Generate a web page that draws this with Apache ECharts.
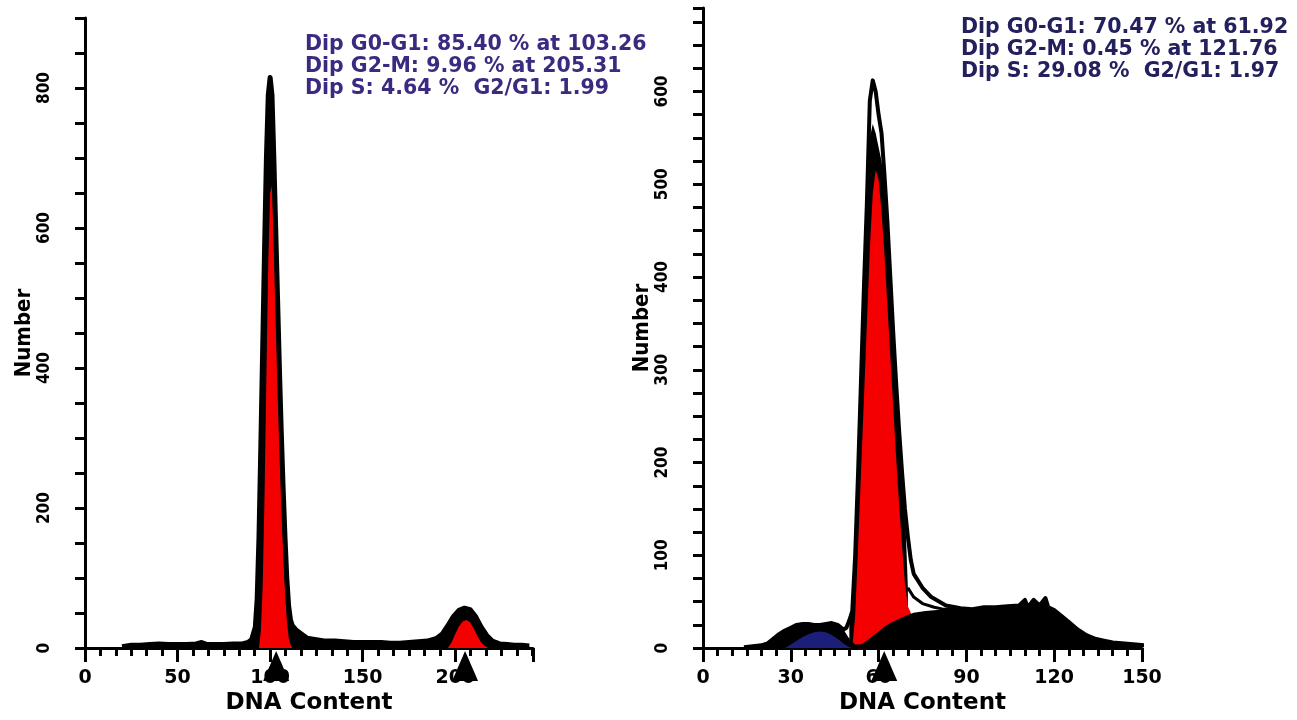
<!DOCTYPE html>
<html>
<head>
<meta charset="utf-8">
<title>DNA Content</title>
<script src="https://cdn.jsdelivr.net/npm/echarts@6/dist/echarts.min.js"></script>
<style>
    html, body { margin: 0; padding: 0; background: #fff; }
    #main { width: 1297px; height: 720px; }
</style>
</head>
<body>
<div id="main"></div>
<script>
// ---------- 左图数据 ----------
const leftHistX = [20, 25, 30, 35, 40, 45, 50, 55, 60, 63, 66, 70, 75, 80, 85, 88, 90, 92, 93, 94, 95, 96, 97, 98, 99, 100,
    101, 102, 103, 104, 105, 106, 107, 108, 109, 110, 111, 112, 114, 116, 118, 120, 125, 130, 135, 140, 145, 150, 155, 160,
    165, 170, 175, 180, 185, 190, 193, 196, 199, 202, 205, 208, 211, 214, 217, 220, 224, 228, 232, 236, 240];
const leftHistY = [2, 4, 4, 5, 6, 5, 5, 5, 6, 8, 5, 5, 5, 6, 6, 8, 12, 30, 70, 160, 290, 430, 570, 700, 790, 815,
    790, 700, 600, 500, 400, 310, 230, 160, 100, 60, 40, 32, 26, 22, 18, 14, 12, 10, 10, 9, 8, 8, 8, 8,
    7, 7, 8, 9, 10, 14, 20, 32, 45, 54, 57, 55, 45, 30, 18, 10, 6, 5, 4, 4, 3];
const leftG1X = [94, 95, 96, 97, 98, 99, 100, 101, 102, 103, 104, 105, 106, 107, 108, 109, 110, 111, 112];
const leftG1Y = [0, 25, 90, 220, 390, 550, 650, 660, 590, 490, 395, 305, 220, 145, 85, 40, 15, 5, 0];
const leftG2X = [196, 198, 200, 202, 204, 206, 208, 210, 212, 214, 216, 218];
const leftG2Y = [0, 8, 20, 31, 38, 40, 37, 28, 17, 8, 3, 0];
const leftPeaks = [103.26, 205.31];
const leftXLabels = [0, 50, 100, 150, 200];
const leftYLabels = [0, 200, 400, 600, 800];
const leftNotes = ["Dip G0-G1: 85.40 % at 103.26", "Dip G2-M: 9.96 % at 205.31", "Dip S: 4.64 %  G2/G1: 1.99"];

// ---------- 右图数据 ----------
const rightHistX = [14, 17, 20, 22, 24, 26, 28, 30, 32, 34, 36, 38, 40, 42, 44, 46, 48, 49, 50, 51, 52, 53, 54, 55, 56,
    57, 58, 59, 60, 61, 62, 63, 64, 65, 66, 67, 68, 69, 70, 71, 72, 75, 78, 83, 88, 92, 96, 100, 104, 108, 110,
    111, 113, 115, 117, 118, 120, 122, 125, 128, 131, 134, 137, 140, 144, 148, 151];
const rightHistY = [1, 2, 3, 5, 10, 15, 19, 22, 25, 26, 26, 25, 25, 26, 27, 25, 20, 22, 30, 40, 100, 190, 290, 390, 480,
    590, 612, 600, 575, 555, 510, 460, 400, 340, 285, 235, 190, 150, 120, 95, 80, 65, 55, 46, 43, 42, 44, 44, 45, 46, 52,
    44, 52, 46, 54, 44, 41, 36, 28, 20, 14, 10, 8, 6, 5, 4, 3];
// 峰内实心黑区（顶部留空）
const rightPeakX = [50, 51, 52, 53, 54, 55, 56, 57, 58, 59, 60, 61, 62, 63, 64, 65, 66, 67, 68, 69, 70];
const rightPeakY = [30, 40, 100, 190, 290, 390, 470, 550, 565, 555, 540, 525, 500, 455, 400, 340, 285, 235, 190, 150, 65];
const rightFitX = [70, 72, 75, 79, 82, 86];
const rightFitY = [65, 55, 48, 44, 42, 42];
const rightG1X = [51, 52, 53, 54, 55, 56, 57, 58, 59, 60, 61, 62, 63, 64, 65, 66, 67, 68, 69, 70, 71];
const rightG1Y = [0, 35, 110, 190, 270, 350, 430, 490, 515, 505, 470, 425, 370, 315, 260, 205, 155, 110, 70, 45, 38];
const rightSX = [14, 17, 20, 22, 24, 26, 28, 30, 32, 34, 36, 38, 40, 42, 44, 46, 48, 50, 52, 54, 56, 58, 60, 62, 64, 66,
    68, 70, 72, 76, 80, 84, 88, 92, 96, 100, 104, 108, 110, 111, 113, 115, 117, 118, 120, 122, 125, 128, 131, 134, 137,
    140, 144, 148, 151];
const rightSY = [1, 2, 3, 5, 10, 15, 19, 22, 25, 26, 26, 25, 25, 26, 27, 25, 20, 10, 4, 4, 8, 13, 18, 23, 27, 30,
    33, 36, 38, 40, 41, 42, 43, 42, 44, 44, 45, 46, 52, 44, 52, 46, 54, 44, 41, 36, 28, 20, 14, 10, 8,
    6, 5, 4, 3];
const rightDebrisX = [28, 30, 32, 34, 36, 38, 40, 42, 44, 46, 48, 50, 51];
const rightDebrisY = [0, 4, 8, 12, 15, 17, 18, 17, 14, 10, 5, 1, 0];
const rightPeaks = [61.92];
const rightXLabels = [0, 30, 60, 90, 120, 150];
const rightYLabels = [0, 100, 200, 300, 400, 500, 600];
const rightNotes = ["Dip G0-G1: 70.47 % at 61.92", "Dip G2-M: 0.45 % at 121.76", "Dip S: 29.08 %  G2/G1: 1.97"];

const zip = (xs, ys) => xs.map((x, i) => [x, ys[i]]);

const narrowFont = '"Liberation Sans Narrow", "DejaVu Sans Condensed", sans-serif';
const wideFont = '"DejaVu Sans", Verdana, sans-serif';

// x 轴
const makeXAxis = (gridIndex, max, interval, labels) => ({
    type: "value",
    gridIndex,
    min: 0,
    max,
    interval,
    name: "DNA Content",
    nameLocation: "middle",
    nameGap: 36,
    nameTextStyle: {color: "#000", fontFamily: wideFont, fontWeight: "bold", fontSize: 23},
    axisLine: {show: true, onZero: false, lineStyle: {color: "#000", width: 3}},
    axisTick: {show: true, length: 14, lineStyle: {color: "#000", width: 3}},
    minorTick: {show: true, splitNumber: 6, length: 8, lineStyle: {color: "#000", width: 3}},
    splitLine: {show: false},
    axisLabel: {
        color: "#000",
        fontFamily: wideFont,
        fontWeight: "bold",
        fontSize: 19,
        margin: 20,
        formatter: v => (labels.includes(v) ? String(v) : "")
    }
});

// y 轴
const makeYAxis = (gridIndex, max, interval, labels) => ({
    type: "value",
    gridIndex,
    min: 0,
    max,
    interval,
    name: "Number",
    nameLocation: "middle",
    nameRotate: 90,
    nameGap: 50,
    nameTextStyle: {color: "#000", fontFamily: narrowFont, fontWeight: "bold", fontSize: 22},
    axisLine: {show: true, lineStyle: {color: "#000", width: 3}},
    axisTick: {show: true, length: 10, lineStyle: {color: "#000", width: 3}},
    splitLine: {show: false},
    axisLabel: {
        color: "#000",
        rotate: 90,
        fontFamily: narrowFont,
        fontWeight: "bold",
        fontSize: 17,
        margin: 32,
        formatter: v => (labels.includes(v) ? String(v) : "")
    }
});

const areaSeries = (name, idx, data, color) => ({
    name,
    type: "line",
    xAxisIndex: idx,
    yAxisIndex: idx,
    data,
    showSymbol: false,
    silent: true,
    lineStyle: {width: 0},
    areaStyle: {color, opacity: 1},
    itemStyle: {color}
});

const outline = (name, idx, data, width) => ({
    name,
    type: "line",
    xAxisIndex: idx,
    yAxisIndex: idx,
    data,
    showSymbol: false,
    silent: true,
    clip: false,
    lineStyle: {color: "#000", width, join: "round"},
    itemStyle: {color: "#000"}
});

// 峰位三角标记
const withPeaks = (series, peaks) => Object.assign(series, {
    markPoint: {
        symbol: "triangle",
        symbolSize: [26, 30],
        symbolOffset: [0, 18],
        itemStyle: {color: "#000"},
        label: {show: false},
        data: peaks.map(p => ({coord: [p, 0]}))
    }
});

const noteText = (left, top, lines, color) => ({
    type: "text",
    left,
    top,
    style: {
        text: lines.join("\n"),
        fill: color,
        font: `bold 20.5px ${wideFont}`,
        lineHeight: 22
    }
});

const option = {
    backgroundColor: "#fff",
    animation: false,
    grid: [
        {left: 85, top: 18, width: 448, height: 638},
        {left: 703, top: 8, width: 439, height: 648}
    ],
    xAxis: [makeXAxis(0, 242, 50, leftXLabels), makeXAxis(1, 150, 30, rightXLabels)],
    yAxis: [makeYAxis(0, 900, 50, leftYLabels), makeYAxis(1, 690, 25, rightYLabels)],
    series: [
        // 左图：直方图填黑，拟合峰为红
        areaSeries("hist fill", 0, zip(leftHistX, leftHistY), "#000"),
        areaSeries("G0-G1", 0, zip(leftG1X, leftG1Y), "#f50000"),
        areaSeries("G2-M", 0, zip(leftG2X, leftG2Y), "#f50000"),
        withPeaks(outline("hist", 0, zip(leftHistX, leftHistY), 5), leftPeaks),
        // 右图
        areaSeries("peak fill", 1, zip(rightPeakX, rightPeakY), "#000"),
        areaSeries("G0-G1 R", 1, zip(rightG1X, rightG1Y), "#f50000"),
        areaSeries("S", 1, zip(rightSX, rightSY), "#000"),
        areaSeries("Debris", 1, zip(rightDebrisX, rightDebrisY), "#1c1f7a"),
        outline("fit", 1, zip(rightFitX, rightFitY), 3),
        withPeaks(outline("hist R", 1, zip(rightHistX, rightHistY), 4), rightPeaks)
    ],
    graphic: [
        noteText(305, 34, leftNotes, "#3b2a80"),
        noteText(961, 17, rightNotes, "#23205e")
    ]
};

const chart = echarts.init(document.getElementById("main"));
chart.setOption(option);
window.addEventListener("resize", () => chart.resize());
</script>
</body>
</html>
